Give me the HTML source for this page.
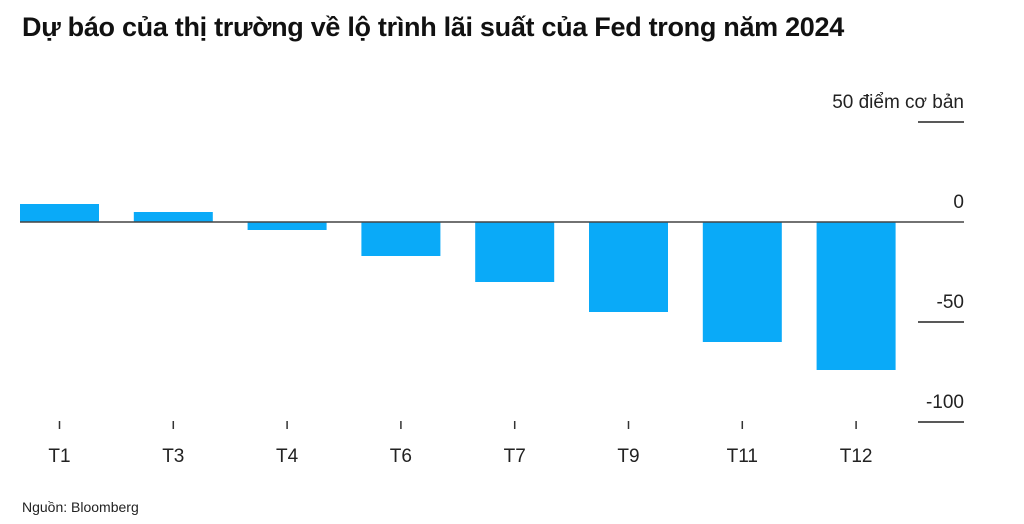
<!DOCTYPE html>
<html><head><meta charset="utf-8"><style>
body{margin:0;width:1024px;height:524px;background:#fff;overflow:hidden;font-family:"Liberation Sans",sans-serif}
#title{position:absolute;left:22px;top:12px;font-size:27px;font-weight:bold;color:#111;letter-spacing:-0.3px;white-space:nowrap}
</style></head><body>
<div id="title">Dự báo của thị trường về lộ trình lãi suất của Fed trong năm 2024</div>
<svg id="chart" width="1024" height="524" style="position:absolute;left:0;top:0"></svg>
<script>
const categories=["T1","T3","T4","T6","T7","T9","T11","T12"];
const values=[9,5,-4,-17,-30,-45,-60,-74];
const tickValues=[50,0,-50,-100];
const tickLabels=["50 điểm cơ bản","0","-50","-100"];
const svg=document.getElementById('chart');
const NS='http://www.w3.org/2000/svg';
const y=v=>222-v*2;
const xc=i=>59.5+i*113.8;
const bw=79;
function mk(t,a){const e=document.createElementNS(NS,t);for(const k in a)e.setAttribute(k,a[k]);svg.appendChild(e);return e;}
tickValues.forEach((v,i)=>{
 if(v!==0){const l=mk('line',{x1:918,x2:964,y1:y(v),y2:y(v),stroke:'#222','stroke-width':1.5});
 
 }
 const t=mk('text',{x:964,y:y(v)-14,'text-anchor':'end','font-size':19,fill:'#222','font-family':'Liberation Sans, sans-serif'});
 t.textContent=tickLabels[i];
 
 
});
values.forEach((v,i)=>{
 const r=mk('rect',{x:xc(i)-bw/2,y:Math.min(y(v),y(0)),width:bw,height:Math.abs(y(v)-y(0)),fill:'#0aaaf8'});
 
 
 const tk=mk('line',{x1:xc(i),x2:xc(i),y1:421,y2:429,stroke:'#333','stroke-width':1.5});
 
 
 const t=mk('text',{x:xc(i),y:462,'text-anchor':'middle','font-size':19,fill:'#222','font-family':'Liberation Sans, sans-serif'});
 t.textContent=categories[i];
 
 
});
const z=mk('line',{x1:20,x2:964,y1:y(0),y2:y(0),stroke:'#444','stroke-width':1.5});


const s=mk('text',{x:22,y:512,'font-size':14,fill:'#222','font-family':'Liberation Sans, sans-serif'});
s.textContent='Nguồn: Bloomberg';


</script>
</body></html>
